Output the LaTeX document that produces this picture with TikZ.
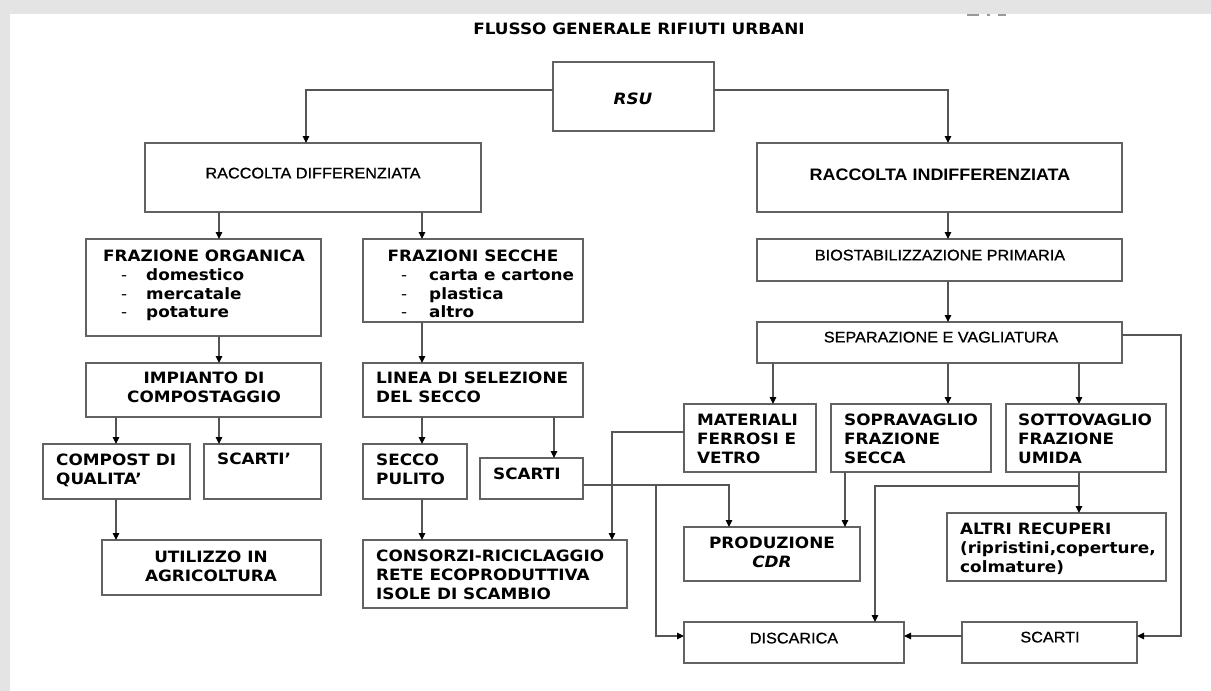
\documentclass[tikz,border=0pt]{standalone}
\usepackage{fontspec}
\setmainfont{DejaVu Sans}
\newfontfamily\vfont{DejaVu Sans}[FakeStretch=1.08]
\newfontfamily\afont{Liberation Sans}[FakeStretch=1.08]
\newfontfamily\amfont{Liberation Sans}[FakeStretch=1.06,FakeBold=0.9]
\usetikzlibrary{arrows.meta}
\definecolor{bggray}{HTML}{E4E4E4}
\definecolor{linegray}{HTML}{555555}
\definecolor{boxgray}{HTML}{626262}
\newcommand\linesL[1]{\begin{tabular}[t]{@{}l@{}}#1\end{tabular}}
\newcommand\linesC[1]{\begin{tabular}[t]{@{}c@{}}#1\end{tabular}}
\newcommand\dashitem[2]{\makebox[#1][l]{\mdseries -}#2}
\newcommand\boxnode[5]{\node[box, minimum width={(#4-#2)*1pt}, minimum height={(#5-#3)*1pt}] (#1) at ({(#2+#4)/2},{(#3+#5)/2}) {};}
\tikzset{
  box/.style={draw=boxgray, line width=1.4pt, rectangle, inner sep=0pt, outer sep=0pt},
  vt/.style={font={\vfont\fontsize{15.6}{18.7}\bfseries\selectfont}, inner sep=0pt, text=black},
  arialt/.style={font={\amfont\fontsize{15.3}{18.7}\selectfont}, inner sep=0pt, text=black},
  arialb/.style={font={\afont\fontsize{16.6}{18.7}\bfseries\selectfont}, inner sep=0pt, text=black},
  conn/.style={draw=linegray, line width=1.2pt},
  arr/.style={conn, -{Triangle[length=7pt,width=6.5pt,color=black]}},
}
\begin{document}
\begin{tikzpicture}[x=1pt,y=-1pt]
\useasboundingbox (0,0) rectangle (1211,691);
\fill[white] (0,0) rectangle (1211,691);
\fill[bggray] (0,0) rectangle (1211,14);
\fill[bggray] (0,0) rectangle (10,691);
\fill[gray!80] (967,14) rectangle (979,16);
\fill[gray!80] (987,14) rectangle (990,16);
\fill[gray!80] (998,14) rectangle (1006,16);

% title
\node[vt, anchor=base] (title) at (639,34.6) {FLUSSO GENERALE RIFIUTI URBANI};

% boxes
\boxnode{rsu}{553}{62}{714}{131}
\boxnode{rd}{145}{143}{481}{212}
\boxnode{ri}{757}{143}{1122}{212}
\boxnode{fo}{86}{239}{321}{336}
\boxnode{fs}{363}{239}{583}{322}
\boxnode{imp}{86}{363}{321}{417}
\boxnode{lin}{363}{363}{583}{417}
\boxnode{comp}{43}{444}{190}{499}
\boxnode{sca}{204}{444}{321}{499}
\boxnode{sp}{363}{444}{467}{499}
\boxnode{scb}{480}{458}{583}{499}
\boxnode{util}{102}{540}{321}{595}
\boxnode{cons}{363}{540}{627}{608}
\boxnode{bio}{757}{239}{1122}{281}
\boxnode{sep}{757}{322}{1122}{363}
\boxnode{mat}{684}{404}{816}{472}
\boxnode{sopra}{831}{404}{991}{472}
\boxnode{sotto}{1006}{404}{1166}{472}
\boxnode{prod}{684}{527}{860}{581}
\boxnode{altri}{947}{513}{1166}{581}
\boxnode{disc}{684}{622}{904}{663}
\boxnode{scc}{962}{622}{1137}{663}

% texts
\node[vt, anchor=base] (rsu-t) at (633,104.6) {\itshape RSU};
\node[arialt, anchor=base] (rd-t) at (313,178.4) {RACCOLTA DIFFERENZIATA};
\node[arialb, anchor=base] (ri-t) at (940,180.7) {RACCOLTA INDIFFERENZIATA};
\node[vt, anchor=base] (fo-t) at (204,261.6) {FRAZIONE ORGANICA};
\node[vt, anchor=base west] (fo-l) at (121,280.3) {\linesL{\dashitem{25pt}{domestico}\\\dashitem{25pt}{mercatale}\\\dashitem{25pt}{potature}}};
\node[vt, anchor=base] (fs-t) at (473,261.6) {FRAZIONI SECCHE};
\node[vt, anchor=base west] (fs-l) at (401,280.3) {\linesL{\dashitem{28pt}{carta e cartone}\\\dashitem{28pt}{plastica}\\\dashitem{28pt}{altro}}};
\node[vt, anchor=base] (imp-t) at (204,383.6) {\linesC{IMPIANTO DI\\COMPOSTAGGIO}};
\node[vt, anchor=base west] (lin-t) at (376,383.6) {\linesL{LINEA DI SELEZIONE\\DEL SECCO}};
\node[vt, anchor=base west] (comp-t) at (56,465.6) {\linesL{COMPOST DI\\QUALITA’}};
\node[vt, anchor=base west] (sca-t) at (217,464.6) {SCARTI’};
\node[vt, anchor=base west] (sp-t) at (376,465.6) {\linesL{SECCO\\PULITO}};
\node[vt, anchor=base west] (scb-t) at (493,479.6) {SCARTI};
\node[vt, anchor=base] (util-t) at (211,562.6) {\linesC{UTILIZZO IN\\AGRICOLTURA}};
\node[vt, anchor=base west] (cons-t) at (376,561.6) {\linesL{CONSORZI-RICICLAGGIO\\RETE ECOPRODUTTIVA\\ISOLE DI SCAMBIO}};
\node[arialt, anchor=base] (bio-t) at (940,260.4) {BIOSTABILIZZAZIONE PRIMARIA};
\node[arialt, anchor=base] (sep-t) at (941,342.4) {SEPARAZIONE E VAGLIATURA};
\node[vt, anchor=base west] (mat-t) at (697,425.6) {\linesL{MATERIALI\\FERROSI E\\VETRO}};
\node[vt, anchor=base west] (sopra-t) at (844,425.6) {\linesL{SOPRAVAGLIO\\FRAZIONE\\SECCA}};
\node[vt, anchor=base west] (sotto-t) at (1018,425.6) {\linesL{SOTTOVAGLIO\\FRAZIONE\\UMIDA}};
\node[vt, anchor=base] (prod-t) at (772,548.6) {\linesC{PRODUZIONE\\\itshape CDR}};
\node[vt, anchor=base west] (altri-t) at (960,534.6) {\linesL{ALTRI RECUPERI\\(ripristini,coperture,\\colmature)}};
\node[arialt, anchor=base] (disc-t) at (794,643.4) {DISCARICA};
\node[arialt, anchor=base] (scc-t) at (1050,642.4) {SCARTI};

% x positions
\coordinate (X116) at (116,0);
\coordinate (X219) at (219,0);
\coordinate (X306) at (306,0);
\coordinate (X422) at (422,0);
\coordinate (X554) at (554,0);
\coordinate (X612) at (612,0);
\coordinate (X656) at (656,0);
\coordinate (X729) at (729,0);
\coordinate (X773) at (773,0);
\coordinate (X845) at (845,0);
\coordinate (X875) at (875,0);
\coordinate (X948) at (948,0);
\coordinate (X1079) at (1079,0);
\coordinate (X1181) at (1181,0);

% connectors
\draw[arr] ([yshift=6.5pt]rsu.west) -| (rd.north -| X306);
\draw[arr] ([yshift=6.5pt]rsu.east) -| (ri.north -| X948);
\draw[arr] (rd.south -| X219) -- (fo.north -| X219);
\draw[arr] (rd.south -| X422) -- (fs.north -| X422);
\draw[arr] (fo.south -| X219) -- (imp.north -| X219);
\draw[arr] (fs.south -| X422) -- (lin.north -| X422);
\draw[arr] (imp.south -| X116) -- (comp.north -| X116);
\draw[arr] (imp.south -| X219) -- (sca.north -| X219);
\draw[arr] (lin.south -| X422) -- (sp.north -| X422);
\draw[arr] (lin.south -| X554) -- (scb.north -| X554);
\draw[arr] (comp.south -| X116) -- (util.north -| X116);
\draw[arr] (sp.south -| X422) -- (cons.north -| X422);
\draw[arr] ([yshift=6pt]mat.west) -| (cons.north -| X612);
\coordinate (j1) at ([yshift=-6.5pt]scb.east);
\draw[arr] (j1) -| (prod.north -| X729);
\draw[arr] (j1 -| X656) |- ([yshift=6.5pt]disc.west);
\draw[arr] (ri.south -| X948) -- (bio.north -| X948);
\draw[arr] (bio.south -| X948) -- (sep.north -| X948);
\draw[arr] (sep.south -| X773) -- (mat.north -| X773);
\draw[arr] (sep.south -| X948) -- (sopra.north -| X948);
\draw[arr, line width=1.5pt] (sep.south -| X1079) -- (sotto.north -| X1079);
\coordinate (c1) at ([yshift=7.5pt]sep.east);
\coordinate (c2) at ([yshift=6.5pt]scc.east);
\draw[arr] (c1) -| (X1181 |- c2) -- (c2);
\draw[arr] (sopra.south -| X845) -- (prod.north -| X845);
\draw[arr, line width=1.5pt] (sotto.south -| X1079) -- (altri.north -| X1079);
\coordinate (j2) at (1079,486);
\draw[arr] (j2) -| (disc.north -| X875);
\draw[arr] ([yshift=6.5pt]scc.west) -- ([yshift=6.5pt]disc.east);
\end{tikzpicture}
\end{document}
